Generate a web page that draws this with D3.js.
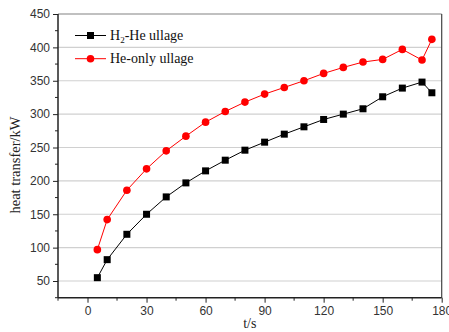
<!DOCTYPE html>
<html><head><meta charset="utf-8">
<script src="https://cdn.jsdelivr.net/npm/d3@7"></script>
<style>body{margin:0;background:#fff}svg{display:block}</style>
</head><body>
<svg id="c" width="449" height="332"></svg>
<script>
const times = [5,10,20,30,40,50,60,70,80,90,100,110,120,130,140,150,160,170,175];
const h2He = [55,82,120,150,176,197,215,231,246,258,270,281,292,300,308,326,339,348,332];
const heOnly = [97,142,186,218,245,267,288,304,318,330,340,350,361,370,378,382,397,381,412];
const xTicks = [0,30,60,90,120,150,180];
const yTicks = [50,100,150,200,250,300,350,400,450];
const seriesNames = ["H₂-He ullage","He-only ullage"];

const svg = d3.select("#c");
const L=58, R=441.7, T=14, B=297.7;
const x = d3.scaleLinear().domain([-15,180]).range([L,R]);
const y = d3.scaleLinear().domain([25,450]).range([B,T]);

// gridlines
svg.append("g").selectAll("line").data(yTicks).join("line")
  .attr("x1",L).attr("x2",R).attr("y1",d=>y(d)).attr("y2",d=>y(d))
  .attr("stroke","#d0d0d0").attr("stroke-width",1.2);

// frame top/right
svg.append("line").attr("x1",L).attr("x2",R).attr("y1",T).attr("y2",T).attr("stroke","#999").attr("stroke-width",1.2);
svg.append("line").attr("x1",R).attr("x2",R).attr("y1",T).attr("y2",B).attr("stroke","#444").attr("stroke-width",1.2);

// x axis
const xMinor = d3.range(-15,181,15).filter(v=>!xTicks.includes(v));
const gx = svg.append("g").attr("transform",`translate(0,${B})`);
gx.call(d3.axisBottom(x).tickValues(xTicks).tickSize(5).tickPadding(4).tickFormat(d3.format("d")));
gx.selectAll(".minor").data(xMinor).join("line").attr("class","minor")
  .attr("x1",d=>x(d)).attr("x2",d=>x(d)).attr("y1",0).attr("y2",3).attr("stroke","#222");
gx.select(".domain").attr("d",`M${L},0H${R}`).attr("stroke","#222").attr("stroke-width",1.5);

// y axis
const yMinor = d3.range(25,451,25).filter(v=>!yTicks.includes(v));
const gy = svg.append("g").attr("transform",`translate(${L},0)`);
gy.call(d3.axisLeft(y).tickValues(yTicks).tickSize(5).tickPadding(3));
gy.selectAll(".minor").data(yMinor).join("line").attr("class","minor")
  .attr("x1",0).attr("x2",-3).attr("y1",d=>y(d)).attr("y2",d=>y(d)).attr("stroke","#222");
gy.select(".domain").attr("d",`M0,${T}V${B}`).attr("stroke","#222").attr("stroke-width",1.5);

svg.selectAll(".tick text").attr("font-family","Liberation Sans, Arial, sans-serif").attr("font-size",12).attr("fill","#333");
svg.selectAll(".tick line").attr("stroke","#222");

// axis titles
svg.append("text").attr("x",(L+R)/2).attr("y",328).attr("text-anchor","middle")
  .attr("font-family","Liberation Serif, Times New Roman, serif").attr("font-size",14).attr("fill","#222").text("t/s");
svg.append("text").attr("transform",`translate(20,${165}) rotate(-90)`).attr("text-anchor","middle")
  .attr("font-family","Liberation Serif, Times New Roman, serif").attr("font-size",14.5).attr("fill","#222").text("heat transfer/kW");

// lines
const line = d3.line().x((d,i)=>x(times[i])).y(d=>y(d));
svg.append("path").attr("d",line(h2He)).attr("fill","none").attr("stroke","#000").attr("stroke-width",1);
svg.append("path").attr("d",line(heOnly)).attr("fill","none").attr("stroke","#f00").attr("stroke-width",1);

svg.append("g").selectAll("rect").data(h2He).join("rect")
  .attr("x",(d,i)=>x(times[i])-3.5).attr("y",d=>y(d)-3.5).attr("width",7).attr("height",7).attr("fill","#000");
svg.append("g").selectAll("circle").data(heOnly).join("circle")
  .attr("cx",(d,i)=>x(times[i])).attr("cy",d=>y(d)).attr("r",3.8).attr("fill","#f00");

// legend
const leg = svg.append("g");
const ly = [35.5,58.7];
leg.append("line").attr("x1",75).attr("x2",106).attr("y1",ly[0]).attr("y2",ly[0]).attr("stroke","#000");
leg.append("rect").attr("x",87).attr("y",ly[0]-3.5).attr("width",7).attr("height",7).attr("fill","#000");
leg.append("line").attr("x1",75).attr("x2",106).attr("y1",ly[1]).attr("y2",ly[1]).attr("stroke","#f00");
leg.append("circle").attr("cx",90.5).attr("cy",ly[1]).attr("r",3.8).attr("fill","#f00");
const t1 = leg.append("text").attr("x",110).attr("y",ly[0]+4.5)
  .attr("font-family","Liberation Serif, Times New Roman, serif").attr("font-size",14).attr("fill","#111");
t1.append("tspan").text("H");
t1.append("tspan").attr("font-size",9).attr("dy",3).text("2");
t1.append("tspan").attr("dy",-3).text("-He ullage");
leg.append("text").attr("x",110).attr("y",ly[1]+4.5)
  .attr("font-family","Liberation Serif, Times New Roman, serif").attr("font-size",14).attr("fill","#111").text(seriesNames[1]);
</script>
</body></html>
